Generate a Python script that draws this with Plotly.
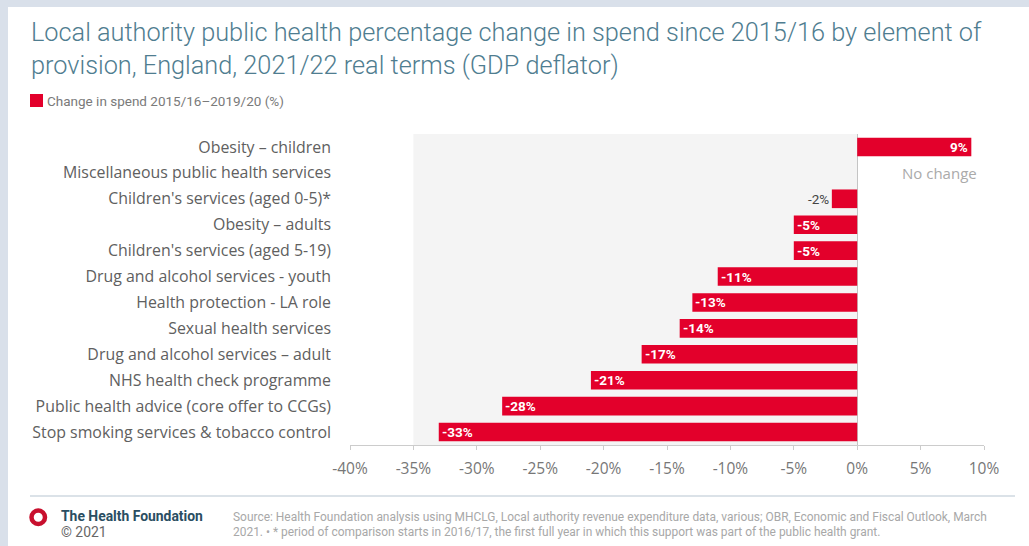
import plotly.graph_objects as go

categories = [
    "Obesity – children",
    "Miscellaneous public health services",
    "Children's services (aged 0-5)*",
    "Obesity – adults",
    "Children's services (aged 5-19)",
    "Drug and alcohol services - youth",
    "Health protection - LA role",
    "Sexual health services",
    "Drug and alcohol services – adult",
    "NHS health check programme",
    "Public health advice (core offer to CCGs)",
    "Stop smoking services & tobacco control",
]
change_pct = [9, 0, -2, -5, -5, -11, -13, -14, -17, -21, -28, -33]
tick_values = [-40, -35, -30, -25, -20, -15, -10, -5, 0, 5, 10]
tick_labels = [f"{v}%" for v in tick_values]

W_FIG, H_FIG = 1029, 546
L, R, T, B = 350, 984, 134, 445
PW, PH = R - L, B - T


def px(x):
    return (x - L) / PW


def py(y):
    return (B - y) / PH


RED = "#e3002b"
FONT = "Roboto, Arial, sans-serif"
FONT2 = "Open Sans, Arial, sans-serif"

fig = go.Figure()
fig.add_trace(go.Bar(
    x=change_pct,
    y=categories,
    orientation="h",
    marker=dict(color=RED, line=dict(width=0)),
    width=0.72,
    name="Change in spend 2015/16–2019/20 (%)",
    hoverinfo="x+y",
))

shapes = []
# white card
shapes.append(dict(type="rect", xref="paper", yref="paper", x0=px(8), x1=px(1040),
                   y0=py(560), y1=py(7), fillcolor="white", line=dict(width=0), layer="below"))
# shaded region
shapes.append(dict(type="rect", xref="x", yref="paper", x0=-35, x1=0, y0=0, y1=1,
                   fillcolor="#f4f4f4", line=dict(width=0), layer="below"))
# legend square
shapes.append(dict(type="rect", xref="paper", yref="paper", x0=px(30), x1=px(43),
                   y0=py(107), y1=py(94), fillcolor=RED, line=dict(width=0)))
# footer rule
shapes.append(dict(type="line", xref="paper", yref="paper", x0=px(30), x1=px(1015),
                   y0=py(496), y1=py(496), line=dict(color="#cfd8e1", width=1.5)))
# logo ring
shapes.append(dict(type="circle", xref="paper", yref="paper", x0=px(31.5), x1=px(45),
                   y0=py(524), y1=py(510.5), line=dict(color="#c8102e", width=4.5)))

ann = []
ann.append(dict(text="Local authority public health percentage change in spend since 2015/16 by element of",
                x=px(29), y=py(33), xanchor="left", yanchor="middle",
                font=dict(family=FONT, size=25.3, color="#4f7d90", weight=300)))
ann.append(dict(text="provision, England, 2021/22 real terms (GDP deflator)",
                x=px(29), y=py(65), xanchor="left", yanchor="middle",
                font=dict(family=FONT, size=25.3, color="#4f7d90", weight=300)))
ann.append(dict(text="Change in spend 2015/16–2019/20 (%)",
                x=px(45), y=py(101), xanchor="left", yanchor="middle",
                font=dict(family=FONT, size=13.5, color="#7a7a7a")))
ann.append(dict(text="<b>The Health Foundation</b>",
                x=px(59), y=py(516), xanchor="left", yanchor="middle",
                font=dict(family=FONT, size=13.9, color="#2a4e62")))
ann.append(dict(text="© 2021",
                x=px(59), y=py(532), xanchor="left", yanchor="middle",
                font=dict(family=FONT, size=13.9, color="#666666")))
ann.append(dict(text="Source: Health Foundation analysis using MHCLG, Local authority revenue expenditure data, various; OBR, Economic and Fiscal Outlook, March",
                x=px(231), y=py(517), xanchor="left", yanchor="middle",
                font=dict(family=FONT, size=11.95, color="#a8a8a8")))
ann.append(dict(text="2021. • * period of comparison starts in 2016/17, the first full year in which this support was part of the public health grant.",
                x=px(231), y=py(532), xanchor="left", yanchor="middle",
                font=dict(family=FONT, size=11.95, color="#a8a8a8")))

for cat, v in zip(categories, change_pct):
    if v == 0:
        ann.append(dict(text="No change", x=v, y=cat, xref="x", yref="y", xanchor="left",
                        xshift=43, yanchor="middle",
                        font=dict(family=FONT2, size=15, color="#aaaaaa")))
    elif v > 0:
        ann.append(dict(text=f"<b>{v}%</b>", x=v, y=cat, xref="x", yref="y", xanchor="right",
                        xshift=-1, yanchor="middle",
                        font=dict(family=FONT, size=13.5, color="white")))
    elif v > -3:
        ann.append(dict(text=f"{v}%", x=v, y=cat, xref="x", yref="y", xanchor="right",
                        xshift=-1, yanchor="middle",
                        font=dict(family=FONT, size=13.5, color="#444444")))
    else:
        ann.append(dict(text=f"<b>{v}%</b>", x=v, y=cat, xref="x", yref="y", xanchor="left",
                        xshift=1, yanchor="middle",
                        font=dict(family=FONT, size=13.5, color="white")))

for a in ann:
    a.setdefault("xref", "paper")
    a.setdefault("yref", "paper")
    a["showarrow"] = False

fig.update_layout(
    width=W_FIG, height=H_FIG,
    margin=dict(l=L, r=W_FIG - R, t=T, b=H_FIG - B, pad=0),
    paper_bgcolor="#d9e0ea",
    plot_bgcolor="rgba(0,0,0,0)",
    showlegend=False,
    shapes=shapes,
    annotations=ann,
    bargap=0.28,
)
fig.update_xaxes(
    range=[-40, 10], tickvals=tick_values, ticktext=tick_labels,
    showgrid=False, zeroline=True, zerolinecolor="#c4c4c4", zerolinewidth=1,
    showline=True, linecolor="#cccccc", linewidth=1,
    ticks="outside", ticklen=4, tickcolor="#cccccc",
    tickfont=dict(family=FONT2, size=15.5, color="#777777"),
    ticklabelstandoff=5, fixedrange=True,
)
fig.update_yaxes(
    categoryorder="array", categoryarray=categories, autorange="reversed",
    range=[11.5, -0.5], showgrid=False, zeroline=False, showline=False, ticks="",
    tickfont=dict(family=FONT2, size=15.9, color="#606060"),
    ticklabelstandoff=18, fixedrange=True,
)

fig.write_html("out.html")
